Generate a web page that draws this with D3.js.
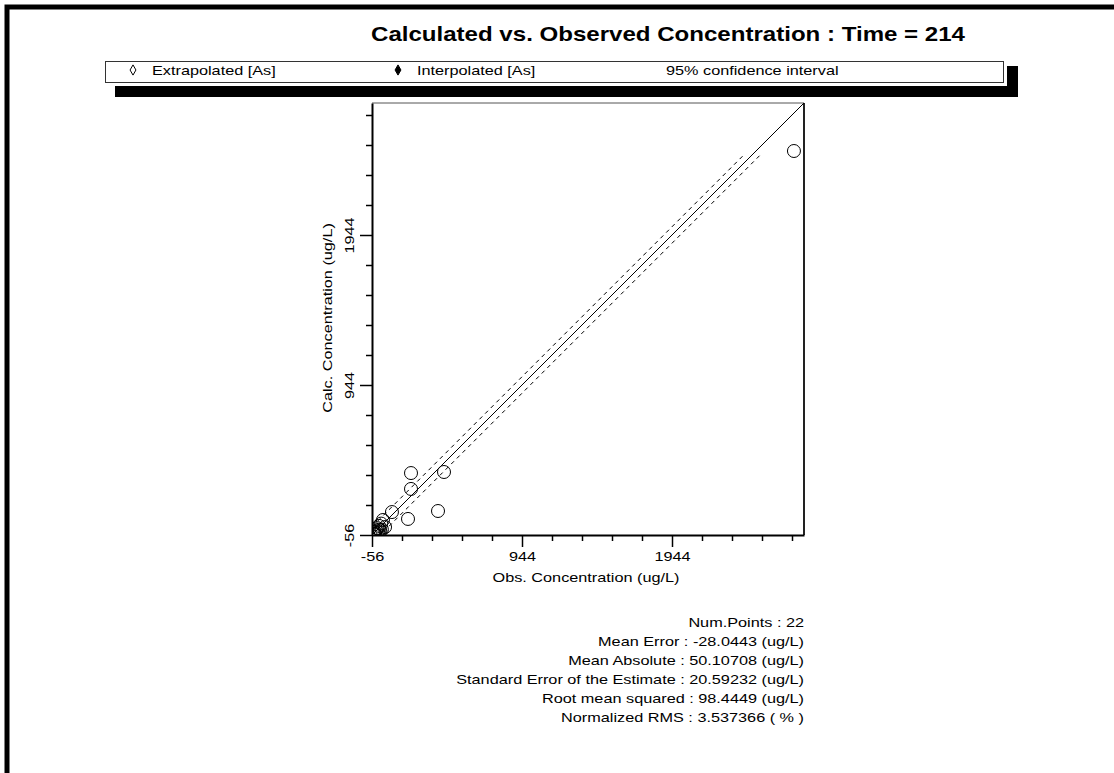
<!DOCTYPE html>
<html>
<head>
<meta charset="utf-8">
<script src="https://cdn.jsdelivr.net/npm/d3@7"></script>
<style>
  html, body { margin: 0; padding: 0; background: #fff; }
  svg { display: block; font-family: "Liberation Sans", Arial, sans-serif; }
</style>
</head>
<body>
<svg id="chart" width="1114" height="773"></svg>
<script>
// Observed vs calculated arsenic concentrations (ug/L)
const observed   = [2757, 204, 424, 204, 384, 184, 77, 17, 31, 5, -10, -20, -30, -40, -45, -50, -35, -25, -15, 0, 10, -5];
const calculated = [2504, 357, 364, 251, 104, 51, 97, 44, -3, 20, 5, -10, -25, -35, -45, -50, -50, -45, -40, -30, -20, -20];

// axis setup
const axisMin = -56;
const axisMax = 2824;
const tickStep = 200;
const majorTicks = [-56, 944, 1944];
const ciOffset = 55;      // half width of the 95% confidence band
const ciEnd = 2480;       // calc value where the band lines stop

const statsLines = [
  "Num.Points : 22",
  "Mean Error : -28.0443 (ug/L)",
  "Mean Absolute : 50.10708 (ug/L)",
  "Standard Error of the Estimate : 20.59232 (ug/L)",
  "Root mean squared : 98.4449 (ug/L)",
  "Normalized RMS : 3.537366 ( % )"
];

const legendItems = [
  { label: "Extrapolated [As]", symbol: "open" },
  { label: "Interpolated [As]", symbol: "filled" },
  { label: "95% confidence interval", symbol: "none" }
];
const legendX = [133, 398, 647];

// the report font is a wide sans; widen Liberation Sans to the same set width
const WIDE = 1.25;
function widen(sel, k = WIDE) {
  sel.each(function() {
    const w = this.getComputedTextLength();
    d3.select(this).attr("textLength", w * k).attr("lengthAdjust", "spacingAndGlyphs");
  });
  return sel;
}

const svg = d3.select("#chart");

// outer window frame
svg.append("rect").attr("x", 7).attr("y", 7).attr("width", 1140).attr("height", 800)
  .attr("fill", "none").attr("stroke", "#000").attr("stroke-width", 5);

// title
svg.append("text").attr("x", 371).attr("y", 41)
  .attr("font-size", 21).attr("font-weight", "bold")
  .text("Calculated vs. Observed Concentration : Time = 214")
  .attr("textLength", 594).attr("lengthAdjust", "spacingAndGlyphs");

// legend box with drop shadow
svg.append("rect").attr("x", 115).attr("y", 66).attr("width", 903).attr("height", 31).attr("fill", "#000");
svg.append("rect").attr("x", 103).attr("y", 59).attr("width", 904).attr("height", 27).attr("fill", "#fff");
svg.append("rect").attr("x", 105.5).attr("y", 61.5).attr("width", 898).attr("height", 21)
  .attr("fill", "#fff").attr("stroke", "#333").attr("stroke-width", 1);

const diamond = d3.symbol().type(d3.symbolDiamond).size(30);
legendItems.forEach((d, i) => {
  const lx = legendX[i];
  if (d.symbol !== "none") {
    svg.append("path").attr("d", diamond)
      .attr("transform", `translate(${lx},70)`)
      .attr("fill", d.symbol === "filled" ? "#000" : "#fff")
      .attr("stroke", "#000").attr("stroke-width", 1);
  }
  widen(svg.append("text").attr("x", lx + 19).attr("y", 74.5)
    .attr("font-size", 13).text(d.label));
});

// scales
const x = d3.scaleLinear().domain([axisMin, axisMax]).range([372, 804]);
const y = d3.scaleLinear().domain([axisMin, axisMax]).range([535, 103]);

const ticks = d3.range(axisMin, axisMax - 50, tickStep);
const isMajor = v => majorTicks.includes(v);

// plot frame (top & right)
svg.append("line").attr("x1", x(axisMin)).attr("x2", x(axisMax)).attr("y1", y(axisMax)).attr("y2", y(axisMax))
  .attr("stroke", "#555").attr("stroke-width", 1);
svg.append("line").attr("x1", x(axisMax)).attr("x2", x(axisMax)).attr("y1", y(axisMax)).attr("y2", y(axisMin))
  .attr("stroke", "#222").attr("stroke-width", 2);

// clip region for marks
svg.append("clipPath").attr("id", "plotClip").append("rect")
  .attr("x", x(axisMin)).attr("y", y(axisMax))
  .attr("width", x(axisMax) - x(axisMin)).attr("height", y(axisMin) - y(axisMax));

const plot = svg.append("g").attr("clip-path", "url(#plotClip)");

// 1:1 line
plot.append("line")
  .attr("x1", x(axisMin)).attr("y1", y(axisMin))
  .attr("x2", x(axisMax)).attr("y2", y(axisMax))
  .attr("stroke", "#000").attr("stroke-width", 1);

// confidence band lines
[ciOffset, -ciOffset].forEach(off => {
  plot.append("line")
    .attr("x1", x(axisMin)).attr("y1", y(axisMin + off))
    .attr("x2", x(ciEnd - off)).attr("y2", y(ciEnd))
    .attr("stroke", "#000").attr("stroke-width", 1)
    .attr("stroke-dasharray", "4,4");
});

// data points
plot.selectAll("circle.pt").data(observed.map((o, i) => [o, calculated[i]]))
  .join("circle").attr("class", "pt")
  .attr("cx", d => x(d[0])).attr("cy", d => y(d[1])).attr("r", 6.5)
  .attr("fill", "none").attr("stroke", "#000").attr("stroke-width", 1);

// x axis
const xAxis = d3.axisBottom(x).tickValues(ticks)
  .tickFormat(v => isMajor(v) ? String(v) : "").tickSizeOuter(0);
const gx = svg.append("g").attr("transform", "translate(0,535)").call(xAxis);
gx.select(".domain").attr("stroke", "#000").attr("stroke-width", 2);
gx.selectAll(".tick line").attr("stroke", "#000").attr("stroke-width", 1.5)
  .attr("y2", v => isMajor(v) ? 12 : 6);
widen(gx.selectAll(".tick text").filter(v => isMajor(v)).attr("y", 17).attr("dy", "0.71em")
  .attr("font-size", 13).attr("font-family", "Liberation Sans, Arial, sans-serif").attr("fill", "#000"));

// y axis
const yAxis = d3.axisLeft(y).tickValues(ticks)
  .tickFormat(v => isMajor(v) ? String(v) : "").tickSizeOuter(0);
const gy = svg.append("g").attr("transform", "translate(372,0)").call(yAxis);
gy.select(".domain").attr("stroke", "#000").attr("stroke-width", 2);
gy.selectAll(".tick line").attr("stroke", "#000").attr("stroke-width", 1.5)
  .attr("x2", v => isMajor(v) ? -12 : -6);
widen(gy.selectAll(".tick text").filter(v => isMajor(v))
  .attr("x", null).attr("dy", null)
  .attr("transform", "translate(-18,0) rotate(-90)")
  .attr("text-anchor", "middle")
  .attr("font-size", 13).attr("font-family", "Liberation Sans, Arial, sans-serif").attr("fill", "#000"));

// axis titles
widen(svg.append("text").attr("x", 586).attr("y", 582).attr("text-anchor", "middle")
  .attr("font-size", 13).text("Obs. Concentration (ug/L)"));
widen(svg.append("text").attr("transform", "translate(332,318) rotate(-90)").attr("text-anchor", "middle")
  .attr("font-size", 13).text("Calc. Concentration (ug/L)"));

// statistics block
widen(svg.append("g").selectAll("text").data(statsLines).join("text")
  .attr("x", 804).attr("y", (d, i) => 627 + i * 19)
  .attr("text-anchor", "end").attr("font-size", 13)
  .text(d => d));
</script>
</body>
</html>
